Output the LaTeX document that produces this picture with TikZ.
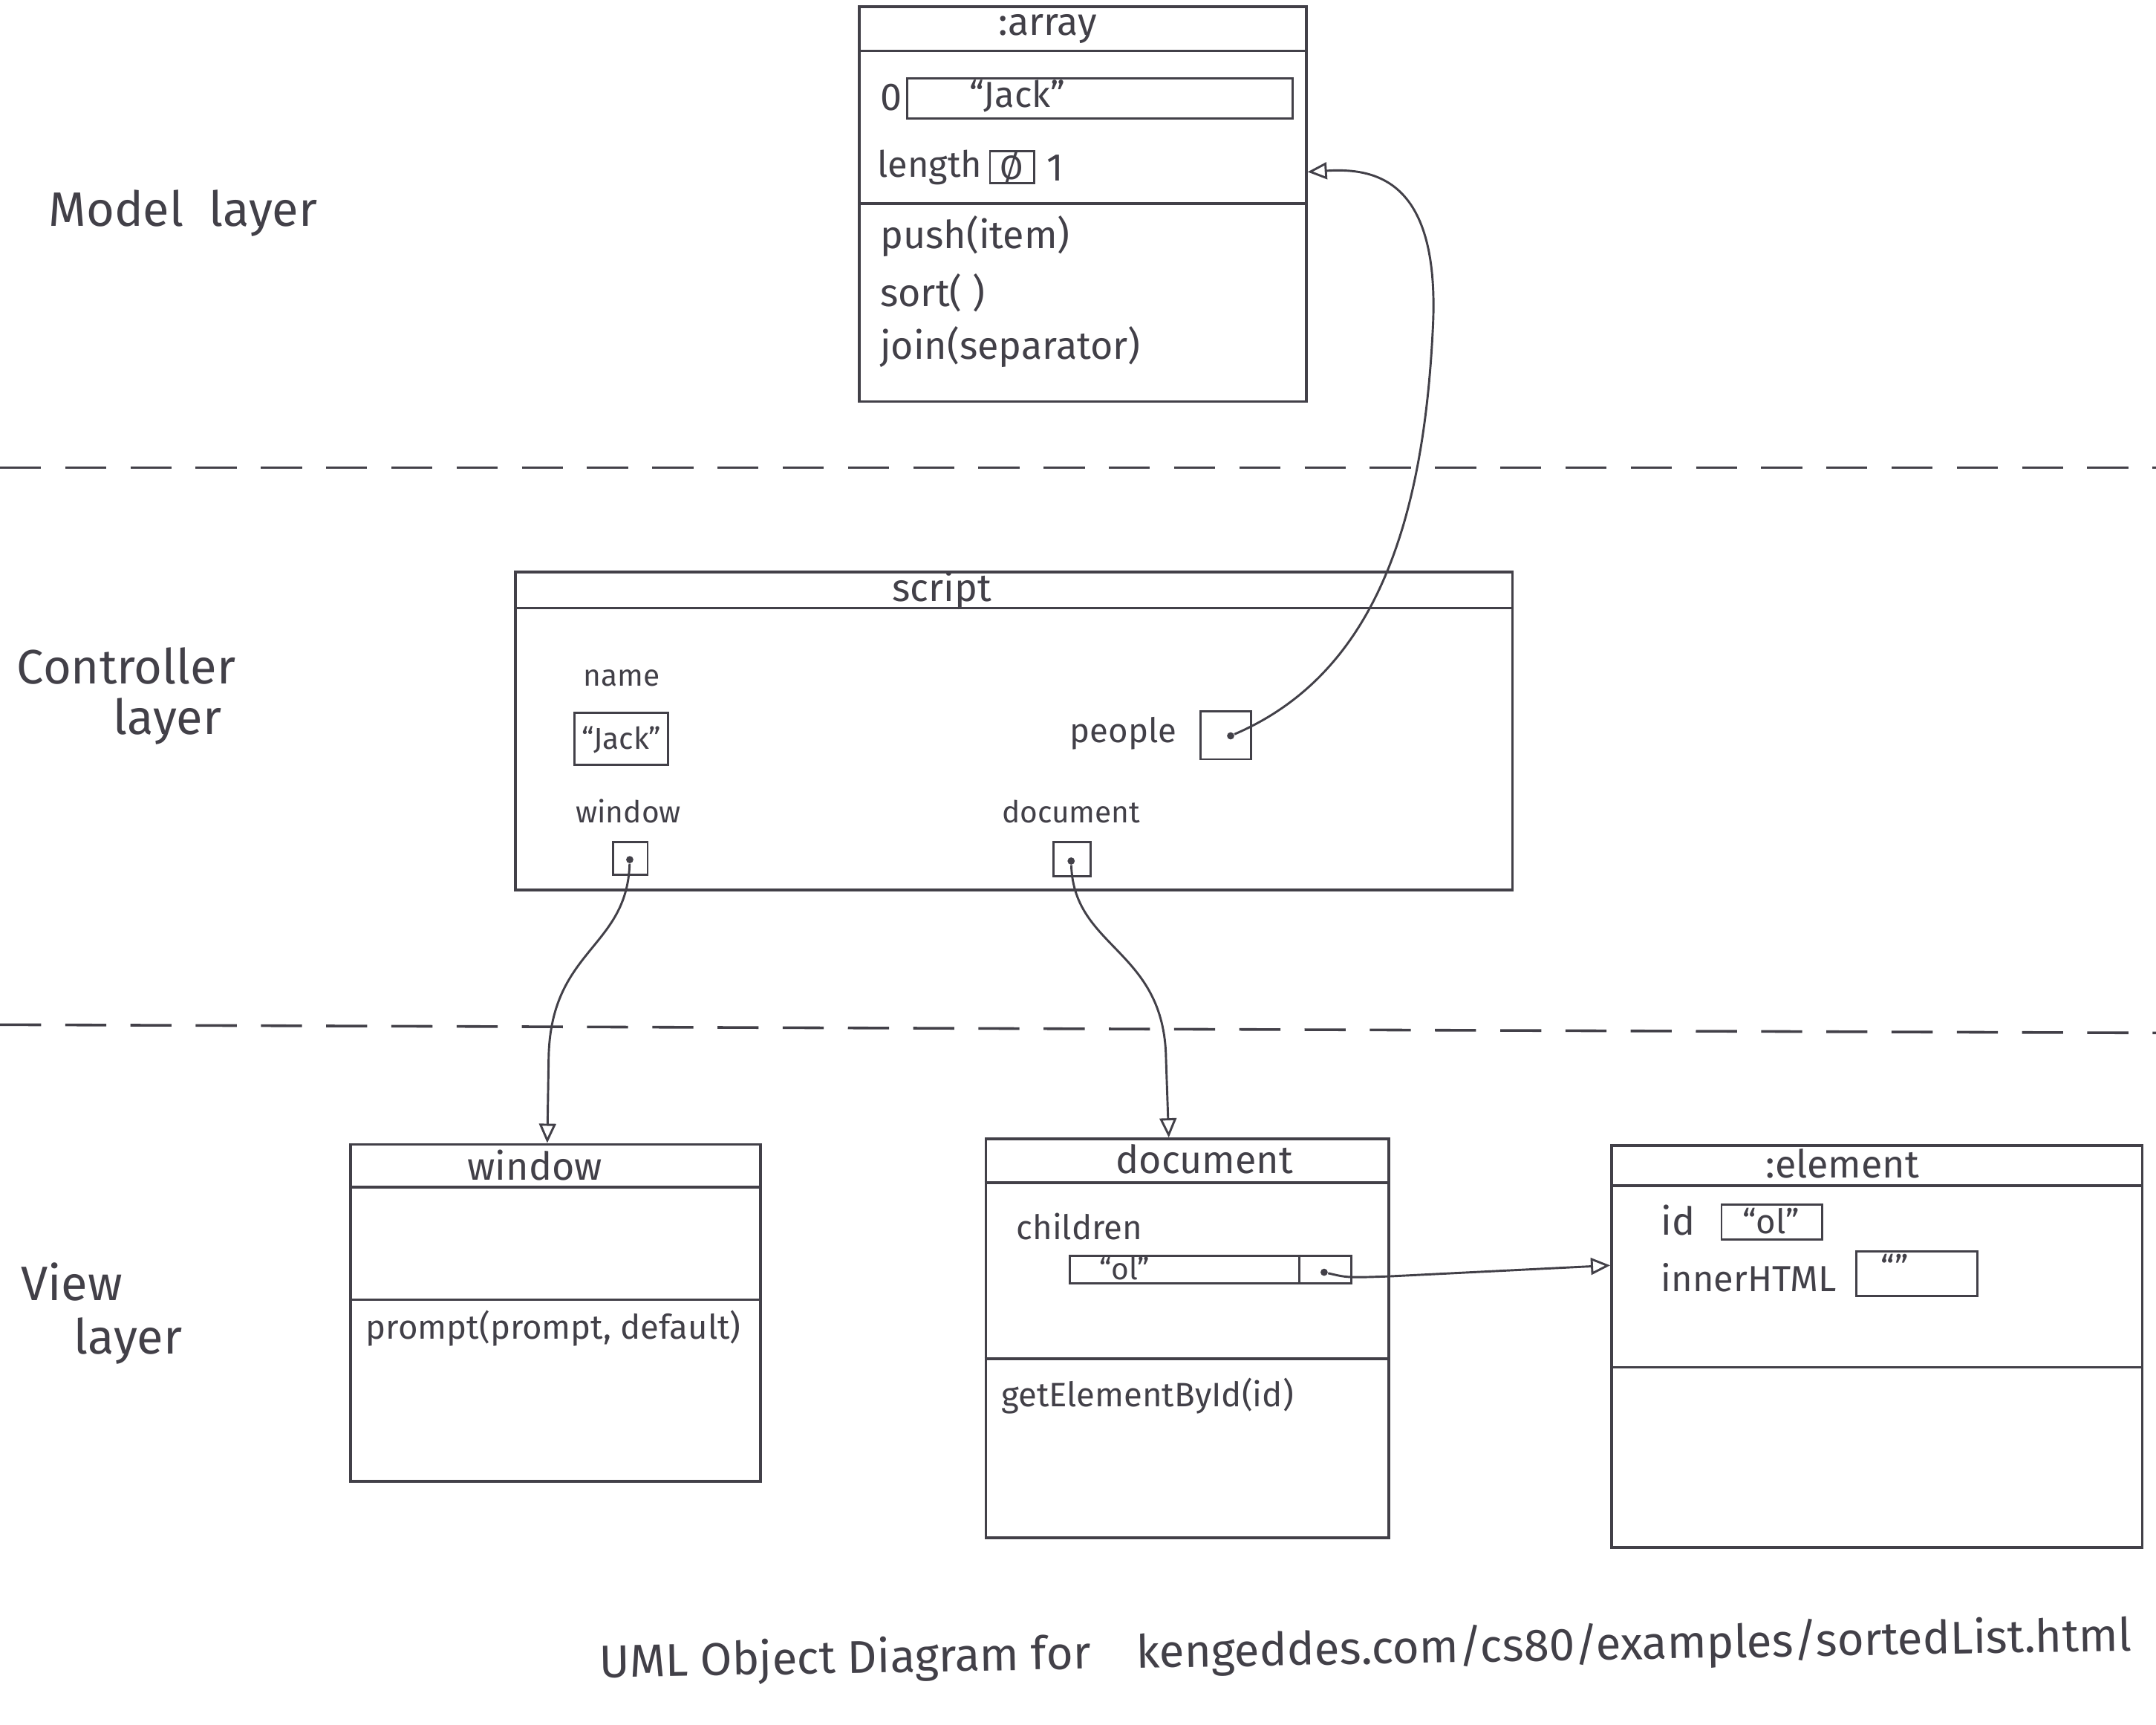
\documentclass[tikz,border=0pt]{standalone}
\usepackage{fontspec}
\setmainfont{Fira Sans}
\usetikzlibrary{arrows.meta, fit}
\definecolor{pencil}{RGB}{66,64,72}

\begin{document}
\begin{tikzpicture}[
    x=0.02cm,
    y=-0.02cm,
    objbox/.style={
        draw=pencil,
        line width=1.1pt,
        inner sep=0pt,
    },
    slotbox/.style={
        draw=pencil,
        line width=0.9pt,
        inner sep=0pt,
    },
    divline/.style={
        pencil,
        line width=1.1pt,
    },
    layerline/.style={
        pencil,
        line width=1.1pt,
        dash pattern=on 17pt off 10pt,
    },
    refarrow/.style={
        pencil,
        line width=0.9pt,
        -{Triangle[open, length=8pt, width=7pt]},
    },
    refdot/.style={
        circle,
        fill=pencil,
        inner sep=0pt,
        minimum size=3pt,
    },
    layertext/.style={
        text=pencil,
        font=\fontsize{20}{22}\selectfont,
        anchor=west,
        align=left,
        inner sep=0pt,
    },
    objtitle/.style={
        text=pencil,
        font=\fontsize{16}{19}\selectfont,
    },
    membertext/.style={
        text=pencil,
        font=\fontsize{14}{17}\selectfont,
        anchor=west,
    },
    bigmember/.style={
        membertext,
        font=\fontsize{16}{19}\selectfont,
    },
    slottext/.style={
        text=pencil,
        font=\fontsize{14}{17}\selectfont,
    },
    smalltext/.style={
        text=pencil,
        font=\fontsize{12.5}{15}\selectfont,
    },
    captiontext/.style={
        text=pencil,
        font=\fontsize{19}{23}\selectfont,
    }
]
    \useasboundingbox (0,0) rectangle (1568,1254);

    % Layers
    \node[layertext] (modellayer) at (35,155) {Model\ \ layer};
    \node[layertext] (ctrllayer) at (12,506) {Controller\\[-1pt]\hspace*{40pt}layer};
    \node[layertext] (viewlayer) at (15,955) {View\\[0pt]\hspace*{22pt}layer};
    \draw[layerline] (0,340) -- (1568,340);
    \draw[layerline] (0,745) -- (1568,751);

    % :array
    \node[objbox, fit={(625,5) (950,292)}] (array) {};
    \node[objtitle] (arraytitle) at (762,21) {:array};
    \draw[divline] (array.west |- 0,37) -- (array.east |- 0,37);
    \draw[divline] (array.west |- 0,148) -- (array.east |- 0,148);
    \node[bigmember] (idx0) at (634,71) {0};
    \node[slotbox, fit={(660,57) (940,86)}] (jackcell) {};
    \node[slottext, font=\fontsize{15}{18}\selectfont] (jackcelltext) at (740,70) {“Jack”};
    \node[membertext, font=\fontsize{15}{18}\selectfont] (lengthname) at (632,122) {length};
    \node[slotbox, fit={(720,110) (752,133)}] (lengthcell) {};
    \node[slottext] (lengthold) at (736,122) {Ø};
    \node[bigmember] (lengthnew) at (755,122) {1};
    \node[bigmember] (pushop) at (634,172) {push(item)};
    \node[bigmember] (sortop) at (634,213) {sort( )};
    \node[bigmember] (joinop) at (634,252) {join(separator)};
    \coordinate (arrayin) at (array.east |- 0,125);

    % script
    \node[objbox, fit={(375,416) (1100,647)}] (script) {};
    \node[objtitle] (scripttitle) at (685,429) {script};
    \draw[divline] (script.west |- 0,442) -- (script.east |- 0,442);
    \node[smalltext] (namelabel) at (452,493) {name};
    \node[slotbox, fit={(418,518) (486,556)}] (namecell) {};
    \node[smalltext] (namecelltext) at (452,538) {“Jack”};
    \node[slottext] (peoplelabel) at (817,533) {people};
    \node[slotbox, fit={(873,517) (910,552)}] (peoplecell) {};
    \node[refdot] (peopledot) at (895,535) {};
    \node[smalltext] (windowlabel) at (457,590) {window};
    \node[slotbox, fit={(446,612) (471,636)}] (windowcell) {};
    \node[refdot] (windowdot) at (458,625) {};
    \node[smalltext] (documentlabel) at (779,590) {document};
    \node[slotbox, fit={(766,612) (793,637)}] (documentcell) {};
    \node[refdot] (documentdot) at (779,626) {};

    % window
    \node[objbox, fit={(255,832) (553,1077)}] (window) {};
    \node[objtitle] (windowtitle) at (389,847) {window};
    \draw[divline] (window.west |- 0,863) -- (window.east |- 0,863);
    \draw[divline] (window.west |- 0,945) -- (window.east |- 0,945);
    \node[membertext] (promptop) at (260,966) {prompt(prompt, default)};

    % document
    \node[objbox, fit={(717,828) (1010,1118)}] (document) {};
    \node[objtitle] (documenttitle) at (876,843) {document};
    \draw[divline] (document.west |- 0,860) -- (document.east |- 0,860);
    \draw[divline] (document.west |- 0,988) -- (document.east |- 0,988);
    \node[membertext] (childrenlabel) at (733,892) {children};
    \node[slotbox, fit={(778,913) (983,933)}] (childrencell) {};
    \draw[slotbox] (childrencell.north -| 945,0) -- (childrencell.south -| 945,0);
    \node[smalltext] (childrentext) at (818,922) {“ol”};
    \node[refdot] (childrendot) at (963,925) {};
    \node[membertext] (getop) at (722,1015) {getElementById(id)};

    % :element
    \node[objbox, fit={(1172,833) (1558,1125)}] (element) {};
    \node[objtitle] (elementtitle) at (1340,846) {:element};
    \draw[divline] (element.west |- 0,862) -- (element.east |- 0,862);
    \draw[divline] (element.west |- 0,994) -- (element.east |- 0,994);
    \node[bigmember] (idlabel) at (1202,887) {id};
    \node[slotbox, fit={(1252,876) (1325,901)}] (idcell) {};
    \node[slottext] (idtext) at (1288,888) {“ol”};
    \node[membertext, font=\fontsize{15}{18}\selectfont] (htmllabel) at (1202,929) {innerHTML};
    \node[slotbox, fit={(1350,910) (1438,942)}] (htmlcell) {};
    \node[slottext] (htmltext) at (1378,921) {“”};

    % References
    \draw[refarrow] (peopledot) .. controls (1000,490) and (1035,380) .. (1042,240)
        .. controls (1048,130) and (1000,122) .. (arrayin);
    \draw[refarrow] (windowdot) .. controls (456,690) and (400,690) .. (399,770)
        -- (window.north -| 398,0);
    \draw[refarrow] (documentdot) .. controls (781,690) and (847,690) .. (848,770)
        -- (document.north -| 850,0);
    \draw[refarrow] (childrendot) .. controls (980,929) .. (1010,928)
        -- (element.west |- 0,920);

    % Caption
    \node[captiontext, rotate=1] (caption) at (993,1200)
        {UML Object Diagram for\quad kengeddes.com/cs80/examples/sortedList.html};
\end{tikzpicture}
\end{document}
